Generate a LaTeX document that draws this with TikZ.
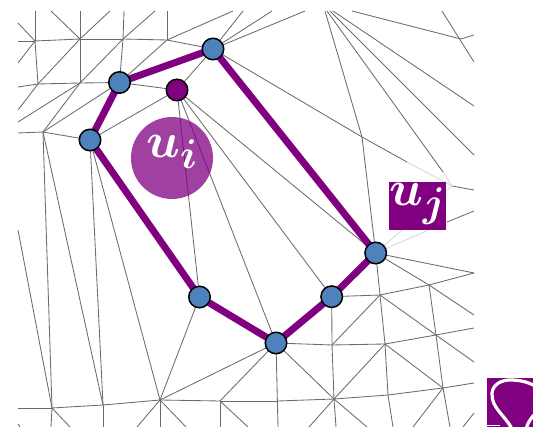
\documentclass[tikz,border=0pt]{standalone}
\usepackage{amsmath,bm}
\definecolor{meshpurple}{RGB}{128,0,128}
\definecolor{meshblue}{RGB}{79,129,189}
\pgfdeclarelayer{meshlayer}
\pgfdeclarelayer{ringlayer}
\pgfsetlayers{meshlayer,ringlayer,main}
\tikzset{
  meshline/.style={draw=black!58,line width=0.85pt},
  fadeline/.style={draw=black!14,line width=1pt},
  ringline/.style={draw=meshpurple,line width=7pt,line join=round},
  bluedot/.style={circle,draw=black,line width=1.5pt,fill=meshblue,minimum size=21.5pt,inner sep=0pt},
  purpledot/.style={circle,draw=black,line width=1.5pt,fill=meshpurple,minimum size=21.5pt,inner sep=0pt},
  labelmark/.style={text=white,inner sep=0pt},
}
\newcommand{\bigmark}[2]{\scalebox{2}{\fontsize{24.88}{26}\selectfont$\boldsymbol{#1}_{\boldsymbol{#2}}$}}
\begin{document}
\begin{tikzpicture}[x=1pt,y=-1pt]
\useasboundingbox (0,0) rectangle (533,427);
% inner mesh vertices and free ends at the border
\foreach \n/\x/\y in {
 A/35/41,B/80/39,C/123/39,D/167/40,E/38/84,F/80/83,G/43/132,
 J/52/408,K/103/405,L/160/400,M/220/401,O/278/401,P/334/399,Q/380/295,R/429/285,S/385/344,T/436/335,
 U/332/345,V/443/388,X/388/395,Z/362/137,W/452/186,H/461/39,
 a1/18/41,a2/18/23,a3/35/11,a4/18/63,b1/80/11,b2/51/11,b3/110/11,c1/124/11,c2/155/11,
 d1/167/11,d2/233/11,e1/18/87,e2/18/110,f1/18/122,g1/18/133,j1/18/230,j2/18/408,
 n1/243/11,n2/272/11,n3/305/11,z1/325/11,w1/327/11,y1/330/11,y2/333/11,y3/474/155,y4/474/106,
 h1/352/11,h2/474/35,i1/442/11,i2/474/62,w2/474/190,v1/474/211,v2/447/222,
 r1/474/273,r2/474/315,t1/474/328,t2/474/362,v3/474/383,
 x1/393/427,v4/450/427,v5/413/427,p1/309/427,p2/336/427,p3/367/427,m1/278/427,
 s1/463/427,s2/474/413,
 l1/137/427,l2/160/427,l3/186/427,j3/51/427,j4/70/427,k1/103/427,
 q1/220/427,q2/248/427,o1/18/424,o2/20/427,
 fz/407/162,fw/443/172}
  \coordinate (\n) at (\x,\y);
% ring nodes
\node[bluedot]   (N1) at (213,49) {};
\node[bluedot]   (N2) at (119.5,82.5) {};
\node[purpledot] (N3) at (177,90) {};
\node[bluedot]   (N4) at (90,140) {};
\node[bluedot]   (N5) at (199.5,297) {};
\node[bluedot]   (N6) at (331.7,296.7) {};
\node[bluedot]   (N7) at (276,343) {};
\node[bluedot]   (N8) at (375.7,253) {};
\begin{pgfonlayer}{meshlayer}
\foreach \p/\q in {
 a1/A,A/B,B/C,C/D,D/N1,a2/A,a3/A,A/E,a4/A,b1/B,b2/B,b3/B,B/F,c1/C,c2/C,C/F,C/N2,
 d1/D,d2/D,D/N2,E/F,e1/E,e2/E,E/B,F/G,f1/F,F/N2,N2/N3,N2/G,N1/N3,N4/N3,G/N4,g1/G,
 n1/N1,n2/N1,n3/N1,N1/Z,Z/fz,N3/N5,N3/N7,N3/N8,N3/N6,
 N4/K,N4/L,G/J,G/K,j1/J,j2/J,J/K,K/L,L/M,M/O,O/P,N5/L,N7/L,M/N7,
 J/j3,J/j4,K/k1,L/l1,L/l2,L/l3,M/q1,M/q2,o1/o2,
 z1/Z,Z/N8,w1/fw,y1/y3,y2/y4,h1/H,H/h2,i1/i2,W/w2,v2/v1,
 N8/Q,Q/S,S/X,X/x1,N8/r1,N8/R,R/r1,N6/Q,Q/R,R/T,T/V,V/v4,Q/T,Q/U,U/N6,N7/U,U/S,S/T,
 T/t1,R/r2,T/t2,S/V,U/P,S/P,N7/P,N7/m1,P/p1,P/p2,P/p3,V/v5,V/v3,P/X,X/V,s1/s2}
  \draw[meshline] (\p.center) -- (\q.center);
\draw[fadeline] (fz) -- (W) (fw) -- (W) (W) -- (N8.center) (N8.center) -- (v2);
\end{pgfonlayer}
\begin{pgfonlayer}{ringlayer}
\draw[ringline] (N1.center) -- (N2.center) -- (N4.center) -- (N5.center) -- (N7.center) -- (N6.center) -- (N8.center) -- cycle;
\end{pgfonlayer}
% label ui
\node[circle,fill=meshpurple,fill opacity=0.75,draw=none,minimum size=82pt,inner sep=0pt] (ui) at (172,158) {};
\node[labelmark] (uitext) at (172,152) {\bigmark{u}{i}};
% label uj
\node[fill=meshpurple,minimum width=57pt,minimum height=48pt,inner sep=0pt] (uj) at (417.5,206) {};
\node[labelmark] (ujtext) at (417.5,204) {\bigmark{u}{j}};
% clipped glyph at the bottom right
\begin{scope}
\clip (487,378) rectangle (533,427);
\fill[meshpurple] (487,378) rectangle (533,427);
\draw[white,line width=3.2pt] (512,429) .. controls (505,415) and (491,408) .. (492,393) .. controls (493,384) and (502,380) .. (510,380) .. controls (520,380) and (528,382) .. (535,386);
\draw[white,line width=3.2pt] (526,429) .. controls (528,422) and (531,418) .. (535,414);
\draw[white,line width=1.5pt] (487,425.5) -- (500,425.5);
\end{scope}
\end{tikzpicture}
\end{document}
